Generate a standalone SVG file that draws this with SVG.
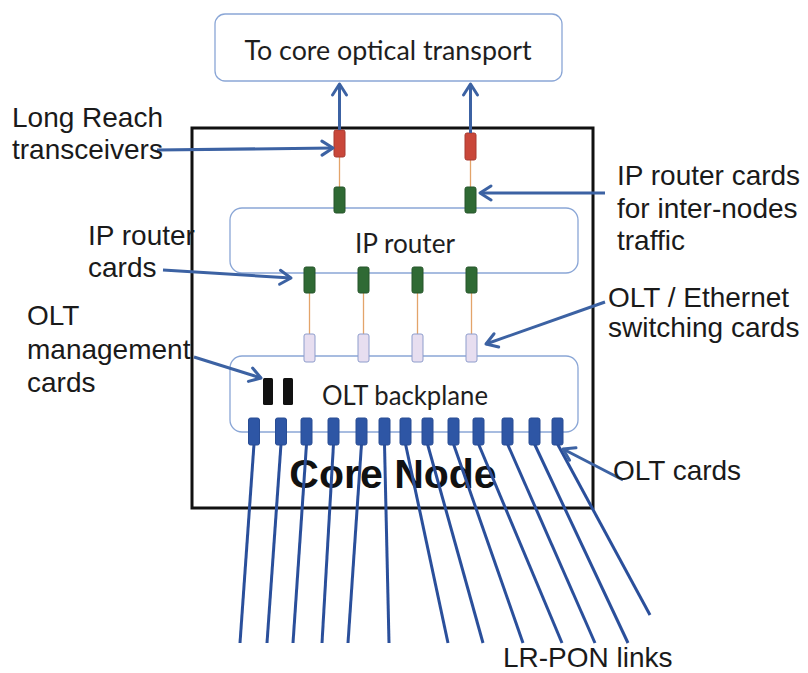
<svg xmlns="http://www.w3.org/2000/svg" width="808" height="673" viewBox="0 0 808 673">
<style>
.box{fill:#fff;stroke:#8aa6d6;stroke-width:1.3}
.core{fill:none;stroke:#111;stroke-width:3}
.btxt{font-family:Lato,"Open Sans","Liberation Sans",sans-serif;fill:#1e1e1e;text-anchor:middle}
.lbl{font-family:"Liberation Sans",Arial,sans-serif;font-size:28px;fill:#1a1a1a}
.red{fill:#c9473a;stroke:#a83b30;stroke-width:1}
.grn{fill:#2f6a34;stroke:#26552a;stroke-width:1}
.lav{fill:#e7def0;stroke:#8e9dcc;stroke-width:1}
.blk{fill:#111}
.olt{fill:#2e56a5;stroke:#284c94;stroke-width:1}
.link{stroke:#e3a46a;stroke-width:1.3;fill:none}
.arr{stroke:#3c62a3;stroke-width:3;fill:none;marker-end:url(#ah)}
.pon{stroke:#2a4f9b;stroke-width:3;fill:none}
</style>
<defs>
<marker id="ah" markerUnits="userSpaceOnUse" viewBox="-14 -10 16 20" refX="0" refY="0" markerWidth="16" markerHeight="20" orient="auto">
<path d="M-11,-7 L0,0 L-11,7" fill="none" stroke="#3c62a3" stroke-width="3" stroke-linecap="round" stroke-linejoin="round"/>
</marker>
</defs>

<g id="core-node">
<rect class="core" x="192" y="128" width="401" height="380"/>
<text x="393" y="488" font-family="Liberation Sans,Arial,sans-serif" font-weight="bold" font-size="41" fill="#111" text-anchor="middle">Core Node</text>
</g>

<g id="transport">
<rect class="box" x="215" y="14" width="347" height="67" rx="10"/>
<text class="btxt" x="388" y="60" font-size="26" textLength="287" lengthAdjust="spacingAndGlyphs">To core optical transport</text>
</g>

<g id="ip-router">
<rect class="box" x="230" y="208" width="348" height="65" rx="12"/>
<text class="btxt" x="405" y="253" font-size="26" textLength="100" lengthAdjust="spacingAndGlyphs">IP router</text>
</g>

<g id="olt-backplane">
<rect class="box" x="230" y="356" width="348" height="76" rx="12"/>
<text class="btxt" x="405" y="405" font-size="26" textLength="166" lengthAdjust="spacingAndGlyphs">OLT backplane</text>
</g>

<g id="internal-links">
<line class="link" x1="339.5" y1="157" x2="339.5" y2="187"/>
<line class="link" x1="470.5" y1="160" x2="470.5" y2="187"/>
<line class="link" x1="309.5" y1="293" x2="309.5" y2="334"/>
<line class="link" x1="363.5" y1="293" x2="363.5" y2="334"/>
<line class="link" x1="417.5" y1="293" x2="417.5" y2="334"/>
<line class="link" x1="471.5" y1="293" x2="471.5" y2="334"/>
</g>

<g id="lr-transceivers">
<rect class="red" x="334" y="130" width="11" height="27" rx="2"/>
<rect class="red" x="465" y="133" width="11" height="27" rx="2"/>
</g>

<g id="inter-node-cards">
<rect class="grn" x="334" y="187" width="11" height="26" rx="2"/>
<rect class="grn" x="465" y="187" width="11" height="26" rx="2"/>
</g>

<g id="ip-router-cards">
<rect class="grn" x="304" y="267" width="11" height="26" rx="2"/>
<rect class="grn" x="358" y="267" width="11" height="26" rx="2"/>
<rect class="grn" x="412" y="267" width="11" height="26" rx="2"/>
<rect class="grn" x="466" y="267" width="11" height="26" rx="2"/>
</g>

<g id="switching-cards">
<rect class="lav" x="304" y="334" width="11" height="28" rx="2"/>
<rect class="lav" x="358" y="334" width="11" height="28" rx="2"/>
<rect class="lav" x="412" y="334" width="11" height="28" rx="2"/>
<rect class="lav" x="466" y="334" width="11" height="28" rx="2"/>
</g>

<g id="mgmt-cards">
<rect class="blk" x="263" y="378" width="10" height="27" rx="1.5"/>
<rect class="blk" x="283" y="378" width="10" height="27" rx="1.5"/>
</g>

<g id="connectors">
<line class="pon" x1="254" y1="444" x2="240" y2="643"/>
<line class="pon" x1="281" y1="444" x2="267" y2="643"/>
<line class="pon" x1="306.5" y1="444" x2="293" y2="643"/>
<line class="pon" x1="333.5" y1="444" x2="322" y2="643"/>
<line class="pon" x1="361.5" y1="444" x2="348" y2="643"/>
<line class="pon" x1="384.5" y1="444" x2="389" y2="643"/>
<line class="pon" x1="405.5" y1="444" x2="448" y2="643"/>
<line class="pon" x1="427.5" y1="444" x2="483" y2="643"/>
<line class="pon" x1="453.5" y1="444" x2="523" y2="643"/>
<line class="pon" x1="478.5" y1="444" x2="562" y2="643"/>
<line class="pon" x1="507.5" y1="444" x2="595" y2="643"/>
<line class="pon" x1="534.5" y1="444" x2="628" y2="643"/>
<line class="pon" x1="557.5" y1="444" x2="650" y2="615"/>
<line class="arr" x1="339.5" y1="130" x2="339.5" y2="84"/>
<line class="arr" x1="470.5" y1="133" x2="470.5" y2="84"/>
<line class="arr" x1="157" y1="150" x2="333" y2="148"/>
<line class="arr" x1="163" y1="270" x2="291" y2="278"/>
<line class="arr" x1="194" y1="357" x2="261" y2="378"/>
<line class="arr" x1="605" y1="193" x2="480" y2="193"/>
<line class="arr" x1="605" y1="302" x2="486" y2="344"/>
<line class="arr" x1="623" y1="480" x2="563" y2="449"/>
</g>

<g id="olt-cards">
<rect class="olt" x="248.5" y="418" width="11" height="27" rx="2"/>
<rect class="olt" x="275.5" y="418" width="11" height="27" rx="2"/>
<rect class="olt" x="301" y="418" width="11" height="27" rx="2"/>
<rect class="olt" x="328" y="418" width="11" height="27" rx="2"/>
<rect class="olt" x="356" y="418" width="11" height="27" rx="2"/>
<rect class="olt" x="379" y="418" width="11" height="27" rx="2"/>
<rect class="olt" x="400" y="418" width="11" height="27" rx="2"/>
<rect class="olt" x="422" y="418" width="11" height="27" rx="2"/>
<rect class="olt" x="448" y="418" width="11" height="27" rx="2"/>
<rect class="olt" x="473" y="418" width="11" height="27" rx="2"/>
<rect class="olt" x="502" y="418" width="11" height="27" rx="2"/>
<rect class="olt" x="529" y="418" width="11" height="27" rx="2"/>
<rect class="olt" x="552" y="418" width="11" height="27" rx="2"/>
</g>

<g id="labels">
<text class="lbl" x="12" y="127">Long Reach</text>
<text class="lbl" x="12" y="159">transceivers</text>
<text class="lbl" x="88" y="245">IP router</text>
<text class="lbl" x="88" y="277">cards</text>
<text class="lbl" x="27" y="325">OLT</text>
<text class="lbl" x="27" y="359">management</text>
<text class="lbl" x="27" y="392">cards</text>
<text class="lbl" x="617" y="185">IP router cards</text>
<text class="lbl" x="617" y="218">for inter-nodes</text>
<text class="lbl" x="617" y="250">traffic</text>
<text class="lbl" x="608" y="307">OLT / Ethernet</text>
<text class="lbl" x="608" y="337">switching cards</text>
<text class="lbl" x="613" y="480">OLT cards</text>
<text class="lbl" x="503" y="667">LR-PON links</text>
</g>
</svg>
